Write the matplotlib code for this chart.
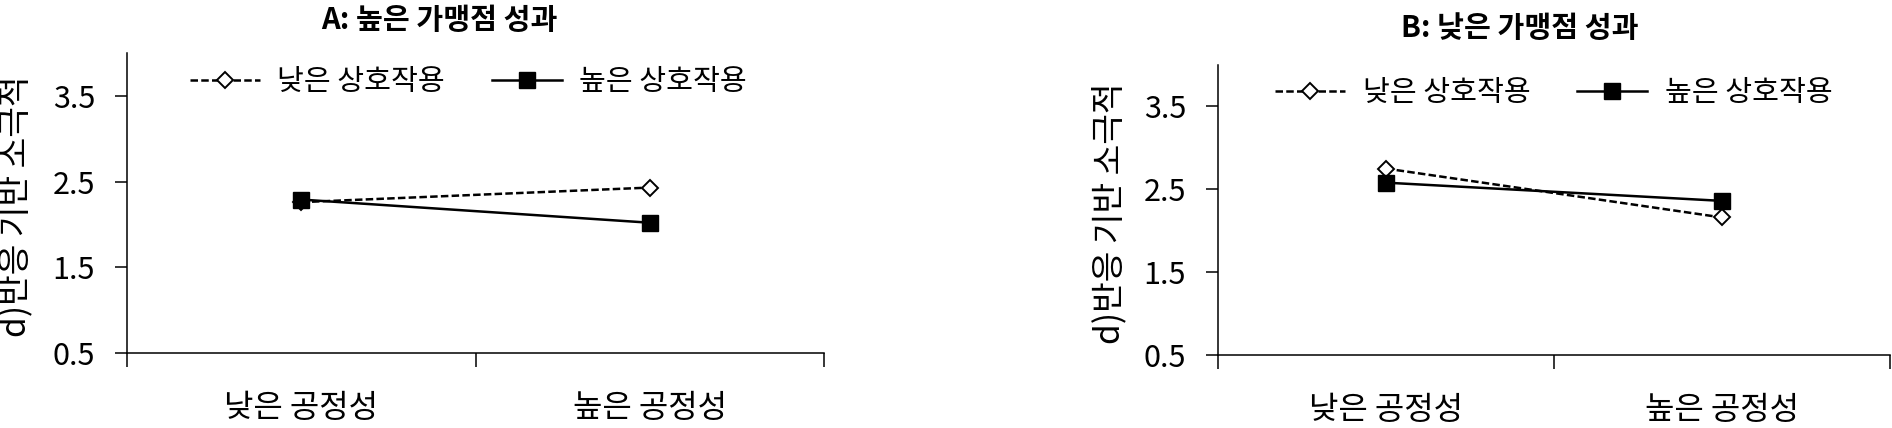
import matplotlib
matplotlib.use('Agg')
import matplotlib.pyplot as plt

plt.rcParams['font.family'] = ['Noto Sans CJK KR', 'DejaVu Sans']

categories = ['낮은 공정성', '높은 공정성']
series_names = ['낮은 상호작용', '높은 상호작용']
ylabel = 'd)반응 기반 소극적'

titles = ['A: 높은 가맹점 성과', 'B: 낮은 가맹점 성과']
# panel A: high franchise performance
a_low = [2.26, 2.43]
a_high = [2.29, 2.02]
# panel B: low franchise performance
b_low = [2.75, 2.16]
b_high = [2.58, 2.36]

yticks = [0.5, 1.5, 2.5, 3.5]

W, H = 1892, 428
fig = plt.figure(figsize=(W / 100, H / 100), dpi=100)

# pixel boxes: left, top, right, bottom
boxes = [(127, 53, 824, 353), (1218, 65, 1890, 355)]
title_pos = [(439, 20), (1520, 28)]
legend_x = [0.49, 0.5]
panels = [(a_low, a_high), (b_low, b_high)]

fs = 21
for i, (box, (low, high)) in enumerate(zip(boxes, panels)):
    l, t, r, b = box
    ax = fig.add_axes([l / W, 1 - b / H, (r - l) / W, (b - t) / H])
    x = [0.5, 1.5]
    ax.plot(x, low, color='black', lw=1.8, linestyle=(0, (3, 1.3)),
            marker='D', markersize=8.5, markerfacecolor='white',
            markeredgecolor='black', markeredgewidth=1.4, label=series_names[0])
    ax.plot(x, high, color='black', lw=1.8, marker='s', markersize=11,
            markerfacecolor='black', markeredgecolor='black', label=series_names[1])

    ax.set_xlim(0, 2)
    ax.set_ylim(0.5, 4.0)
    ax.set_yticks(yticks)
    ax.set_yticklabels([str(v) for v in yticks], fontsize=22)
    ax.set_xticks(x)
    ax.set_xticklabels(categories, fontsize=23)
    ax.set_xticks([0, 1, 2], minor=True)
    ax.tick_params(axis='x', which='major', length=0, pad=28)
    ax.tick_params(axis='x', which='minor', length=10, width=1.1, direction='out')
    ax.tick_params(axis='y', length=9, width=1.1, direction='out', pad=14)

    for s in ['top', 'right']:
        ax.spines[s].set_visible(False)
    for s in ['left', 'bottom']:
        ax.spines[s].set_linewidth(1.1)

    ax.set_ylabel(ylabel, fontsize=24)
    ax.yaxis.set_label_coords(-0.135, 0.49)

    tx, ty = title_pos[i]
    ax.text((tx - l) / (r - l), (b - ty) / (b - t), titles[i], transform=ax.transAxes,
            ha='center', va='center', fontsize=fs, fontweight='bold')

    ax.legend(loc='center', bbox_to_anchor=(legend_x[i], 0.903), ncol=2,
              frameon=False, fontsize=fs, handlelength=2.4, handletextpad=0.6,
              columnspacing=1.6, borderaxespad=0)

fig.savefig('out.png', dpi=100)
